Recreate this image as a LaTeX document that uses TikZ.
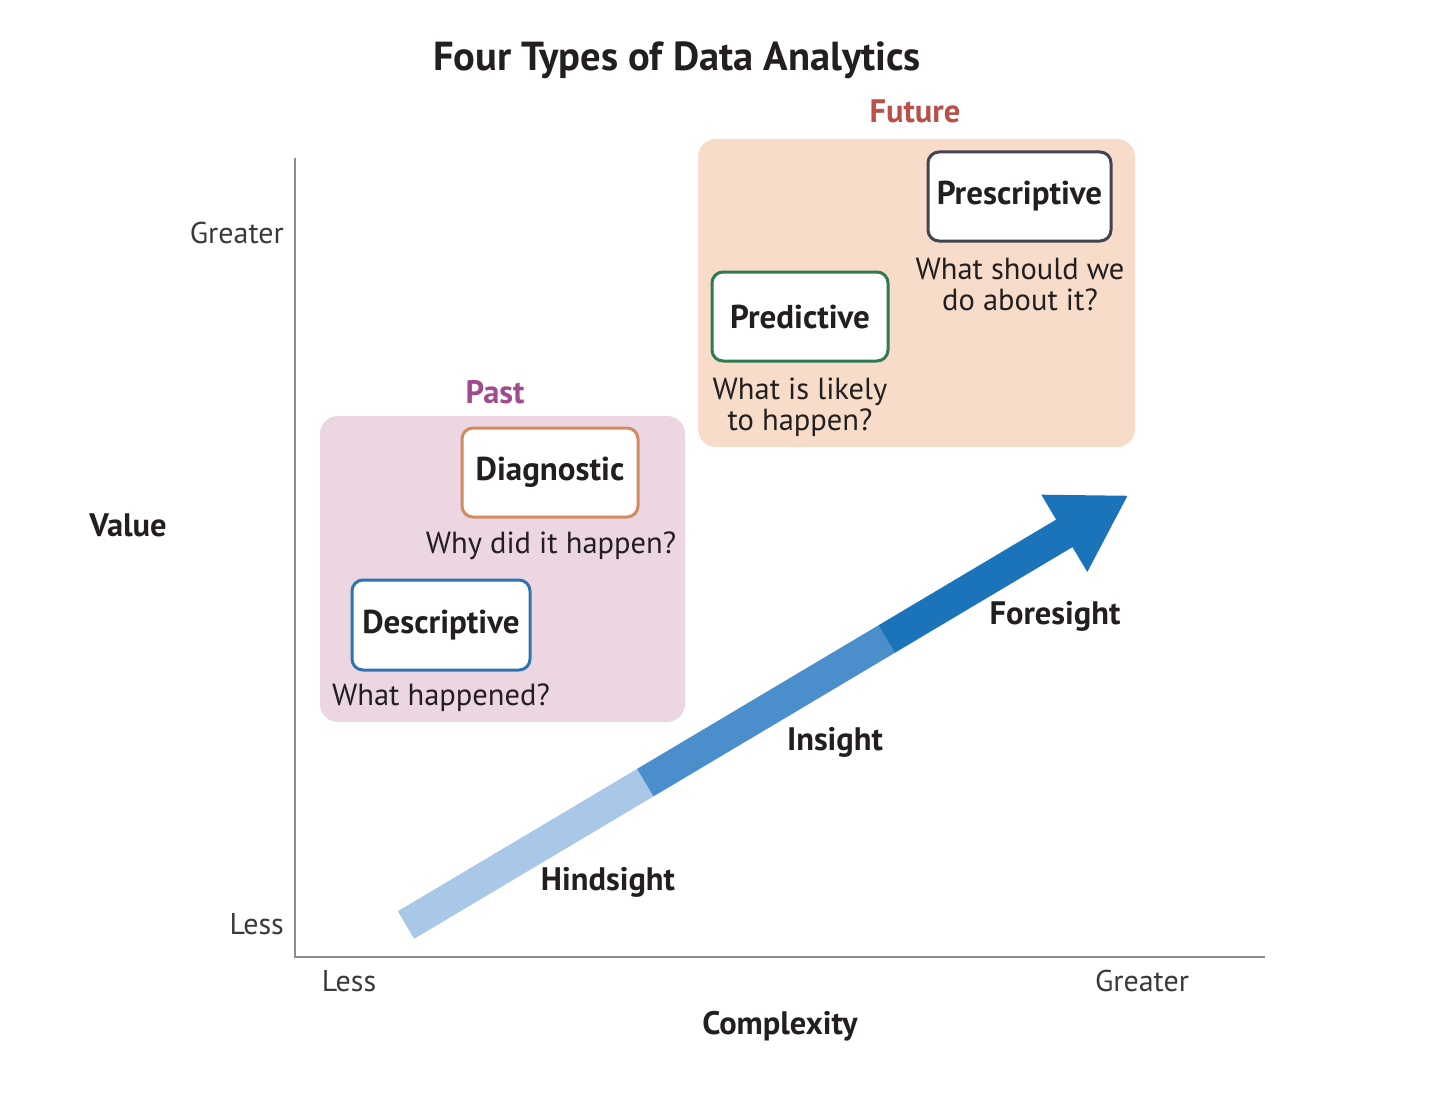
\documentclass[tikz,border=0pt]{standalone}
\usepackage{fontspec}
\setmainfont{PT Sans}
\definecolor{txt}{HTML}{231F20}
\definecolor{axisgrey}{HTML}{8C8C8C}
\definecolor{lbl}{HTML}{3A3A3A}
\definecolor{futfill}{HTML}{F7DDC9}
\definecolor{pastfill}{HTML}{EBD6E1}
\definecolor{futtxt}{HTML}{B9504A}
\definecolor{pasttxt}{HTML}{A24A8E}
\definecolor{prescol}{HTML}{45434F}
\definecolor{predcol}{HTML}{2F7A4E}
\definecolor{diagcol}{HTML}{D08B60}
\definecolor{desccol}{HTML}{2F74B1}
\definecolor{arlight}{HTML}{A9C7E6}
\definecolor{armid}{HTML}{4A8FCC}
\definecolor{ardark}{HTML}{1B74BA}
\tikzset{
  every node/.style={inner sep=0pt, text=txt},
  boldbase/.style={font=\fontsize{32.5}{33}\selectfont\bfseries},
  typebox/.style={draw, line width=3pt, fill=white, rounded corners=11pt, font=\fontsize{33}{33}\selectfont\bfseries},
  zone/.style={rounded corners=18pt},
  question/.style={align=center, font=\fontsize{30.5}{31}\selectfont},
  ticklbl/.style={font=\fontsize{30}{31}\selectfont, text=lbl},
}
\begin{document}
\begin{tikzpicture}[x=1pt, y=-1pt]
\useasboundingbox[fill=white] (0,0) rectangle (1440,1094);
% title
\node[font=\fontsize{40.5}{42}\selectfont\bfseries] (title) at (677,60) {Four Types of Data Analytics};
% zones
\node[zone, fill=futfill, minimum width=437pt, minimum height=308pt] (future) at (916.5,293) {};
\node[zone, fill=pastfill, minimum width=365pt, minimum height=306pt] (past) at (502.5,569) {};
\node[boldbase, text=futtxt] (futlbl) at (915,111) {Future};
\node[boldbase, text=pasttxt] (pastlbl) at (495,392) {Past};
% type boxes
\node[typebox, draw=prescol, minimum width=183pt, minimum height=89pt] (pres) at (1019.5,196.5) {Prescriptive};
\node[typebox, draw=predcol, minimum width=176pt, minimum height=89pt] (pred) at (800,316.5) {Predictive};
\node[typebox, draw=diagcol, minimum width=176pt, minimum height=89pt] (diag) at (550,472.5) {Diagnostic};
\node[typebox, draw=desccol, minimum width=178pt, minimum height=90pt] (desc) at (441,625) {Descriptive};
% questions
\node[question] (presq) at (1020,284.5) {What should we\\do about it?};
\node[question] (predq) at (800,407.5) {What is likely\\to happen?};
\node[question] (diagq) at (551,546) {Why did it happen?};
\node[question] (descq) at (441,698) {What happened?};
% axes
\coordinate (origin) at (295,957);
\coordinate (ytop) at (295,158);
\coordinate (xend) at (1265,957);
\draw[axisgrey, line width=2pt] (ytop) -- (origin) -- (xend);
\node[ticklbl, anchor=east] (ygreat) at (284,233) {Greater};
\node[ticklbl, anchor=east] (yless) at (284,924) {Less};
\node[ticklbl] (xless) at (349,981) {Less};
\node[ticklbl] (xgreat) at (1142,981) {Greater};
\node[boldbase] (value) at (128,525) {Value};
\node[boldbase] (complexity) at (780,1026) {Complexity};
% big arrow
\begin{scope}[shift={(406,925)}, rotate=30.75]
  \fill[arlight] (0,-16) rectangle (279,16);
  \fill[armid] (278.5,-16) rectangle (560,16);
  \fill[ardark] (559.5,-16) rectangle (767,16);
  \fill[ardark] (766,-45) -- (839.5,0) -- (766,45) -- cycle;
\end{scope}
\node[boldbase] (hind) at (608,882) {Hindsight};
\node[boldbase] (ins) at (835,742) {Insight};
\node[boldbase] (fore) at (1055,616) {Foresight};
\end{tikzpicture}
\end{document}
